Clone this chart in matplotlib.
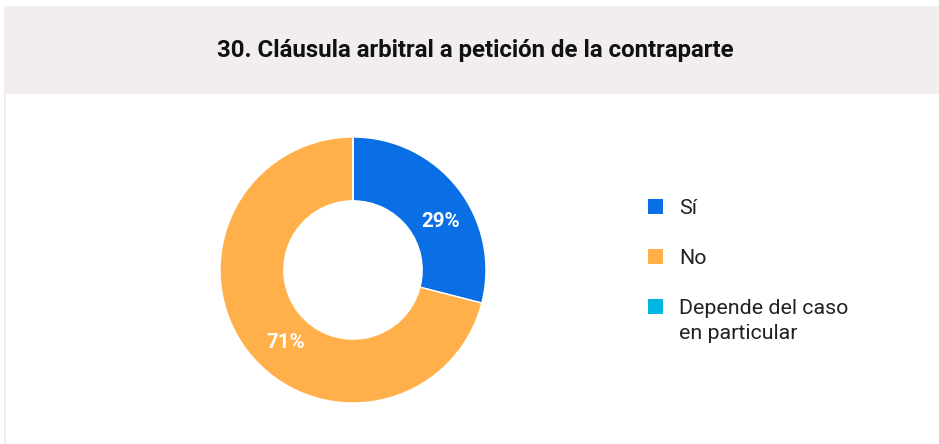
import matplotlib.pyplot as plt
from matplotlib.patches import Rectangle

# datos del gráfico
categorias = ['Sí', 'No', 'Depende del caso\nen particular']
porcentajes = [29, 71, 0]
colores = ['#0a6fe4', '#ffb04b', '#00b5e2']
titulo = '30. Cláusula arbitral a petición de la contraparte'

plt.rcParams['font.family'] = ['Roboto', 'DejaVu Sans']

W, H = 939, 444
fig = plt.figure(figsize=(W / 100, H / 100), dpi=100)


def px(x, y):
    """pasa píxeles (origen arriba a la izquierda) a coordenadas de figura"""
    return x / W, (H - y) / H


# fondo del encabezado y borde izquierdo
fig.patches.append(Rectangle(px(4, 94), 1, 88 / H, transform=fig.transFigure,
                             facecolor='#f1eeed', edgecolor='none', zorder=0))
fig.patches.append(Rectangle((4 / W, 0), 2 / W, (H - 94) / H, transform=fig.transFigure,
                             facecolor='#f1eeed', edgecolor='none', zorder=0))
fig.text(*px(475, 50), titulo, ha='center', va='center',
         fontsize=17.3, fontweight='bold', color='#111111')

# donut
cx, cy, r = 353, 270, 133
ax = fig.add_axes([(cx - r) / W, (H - cy - r) / H, 2 * r / W, 2 * r / H])
valores = [v if v > 0 else 1e-9 for v in porcentajes]
wedges, textos, autotextos = ax.pie(
    valores, colors=colores, startangle=90, counterclock=False, radius=1,
    wedgeprops=dict(width=0.48, edgecolor='white', linewidth=1),
    autopct=lambda p: f'{p:.0f}%' if p > 0.5 else '', pctdistance=0.74,
    textprops=dict(color='white', fontsize=14.8, fontweight='bold'))

# las etiquetas quedan algo desplazadas hacia abajo a la derecha
for t in autotextos:
    x, y = t.get_position()
    t.set_position((x + 0.075, y - 0.09))

ax.set_xlim(-1, 1)
ax.set_ylim(-1, 1)
ax.set_aspect('equal')
ax.axis('off')

# leyenda: cuadrado alineado con la primera línea del texto
lado = 15
for i, (cat, col) in enumerate(zip(categorias, colores)):
    yc = 206.5 + 50 * i
    fig.patches.append(Rectangle(px(648, yc + lado / 2), lado / W, lado / H,
                                 transform=fig.transFigure, facecolor=col,
                                 edgecolor='none'))
    for j, linea in enumerate(cat.split('\n')):
        fig.text(*px(679, yc + 7.5 + 25 * j), linea, ha='left', va='baseline',
                 fontsize=15.4, color='#222222')

fig.savefig('out.png', dpi=100)
